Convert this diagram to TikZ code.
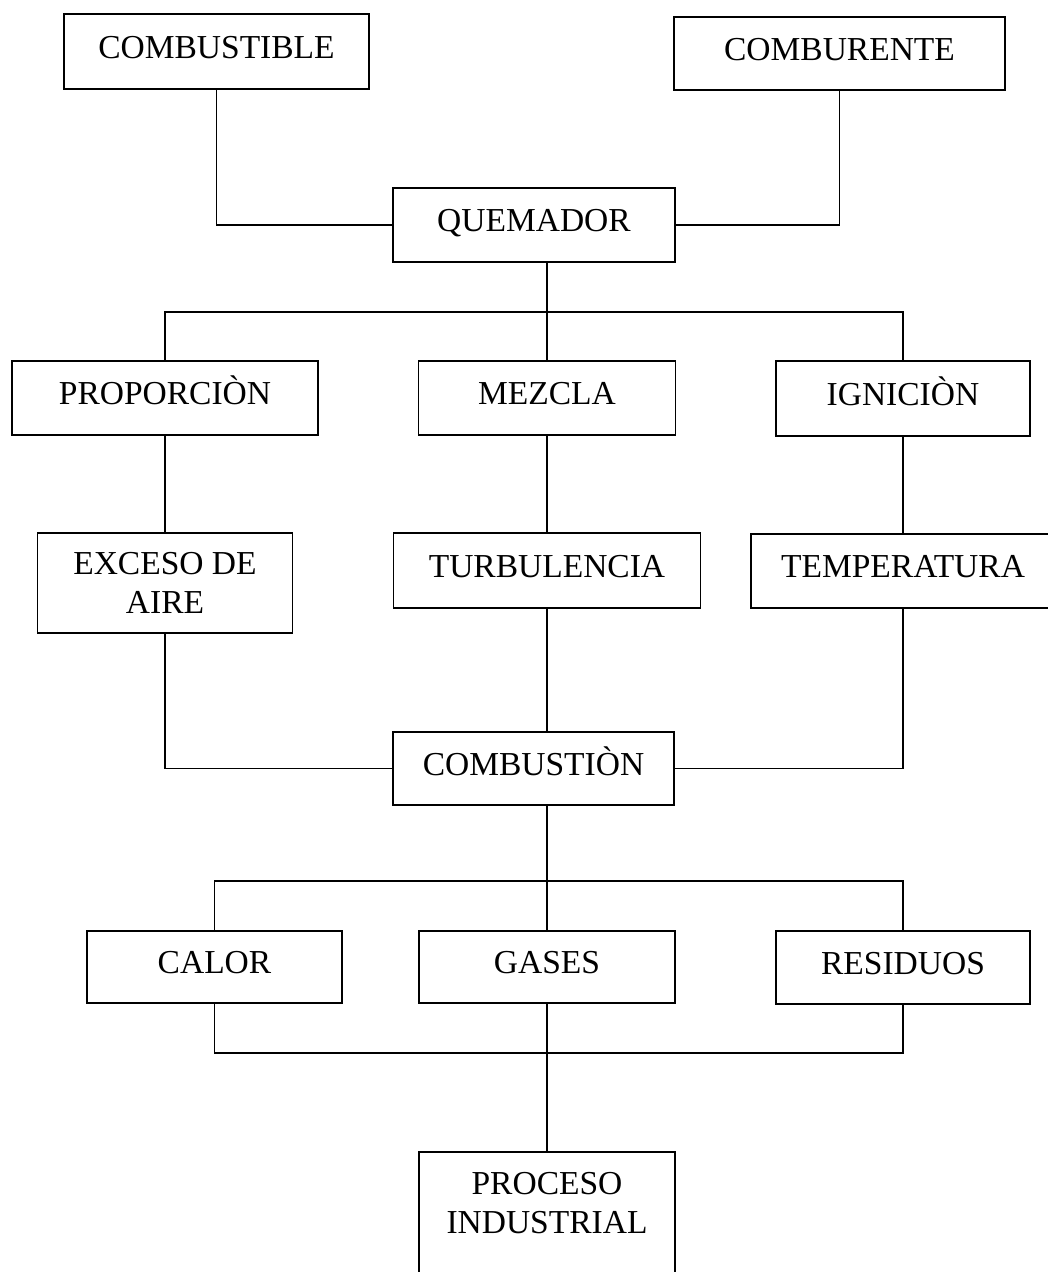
\documentclass[tikz,border=0pt]{standalone}
\usepackage{fontspec}
\setmainfont{Liberation Serif}
\usepackage{tikz}
\usetikzlibrary{positioning, calc}

\begin{document}
\begin{tikzpicture}[x=1pt, y=-1pt,
  box/.style={draw, line width=1.3pt, inner sep=0pt, align=center,
    font=\fontsize{33.5}{39}\selectfont},
  one/.style={box, text height=23pt, text depth=10pt},
  link/.style={line width=1.3pt}]

  \useasboundingbox[fill=white] (0,0) rectangle (1048,1272);

  % entradas
  \node[one, minimum width=305pt, minimum height=75pt] (comb) at (216.5,51.5) {COMBUSTIBLE};
  \node[one, minimum width=331pt, minimum height=73pt] (comr) at (839.5,53.5) {COMBURENTE};
  \node[one, minimum width=282pt, minimum height=74pt] (quem) at (534,225) {QUEMADOR};

  % condiciones
  \node[one, minimum width=306pt, minimum height=74pt] (prop) at (165,398) {PROPORCIÒN};
  \node[one, minimum width=257pt, minimum height=74pt] (mezc) at (547,398) {MEZCLA};
  \node[one, minimum width=254pt, minimum height=75pt] (igni) at (903,398.5) {IGNICIÒN};
  \node[box, minimum width=255pt, minimum height=100pt] (exce) at (165,583) {EXCESO DE\\AIRE};
  \node[one, minimum width=307pt, minimum height=75pt] (turb) at (547,570.5) {TURBULENCIA};
  \node[one, minimum width=304pt, minimum height=74pt] (temp) at (903,571) {TEMPERATURA};

  \node[one, minimum width=281pt, minimum height=73pt] (cbst) at (533.5,768.5) {COMBUSTIÒN};

  % productos
  \node[one, minimum width=255pt, minimum height=72pt] (calo) at (214.5,967) {CALOR};
  \node[one, minimum width=256pt, minimum height=72pt] (gase) at (547,967) {GASES};
  \node[one, minimum width=254pt, minimum height=73pt] (resi) at (903,967.5) {RESIDUOS};
  \node[box, minimum width=256pt, minimum height=140pt] (proc) at (547,1222) {PROCESO\\INDUSTRIAL\\~};

  \coordinate (busA) at (547,312);
  \coordinate (busB) at (547,881);
  \coordinate (busC) at (547,1053);

  \draw[link] (comb.south) |- (quem.west);
  \draw[link] (comr.south) |- (quem.east);
  \draw[link] (quem.south -| busA) -- (mezc.north);
  \draw[link] (prop.north) |- (busA) -| (igni.north);

  \draw[link] (prop.south) -- (exce.north);
  \draw[link] (mezc.south) -- (turb.north);
  \draw[link] (igni.south) -- (temp.north);

  \draw[link] (exce.south) |- (cbst.west);
  \draw[link] (temp.south) |- (cbst.east);
  \draw[link] (turb.south) -- (turb.south |- cbst.north);

  \draw[link] (cbst.south -| busB) -- (gase.north);
  \draw[link] (calo.north) |- (busB) -| (resi.north);
  \draw[link] (calo.south) |- (busC) -| (resi.south);
  \draw[link] (gase.south) -- (proc.north);
\end{tikzpicture}
\end{document}
